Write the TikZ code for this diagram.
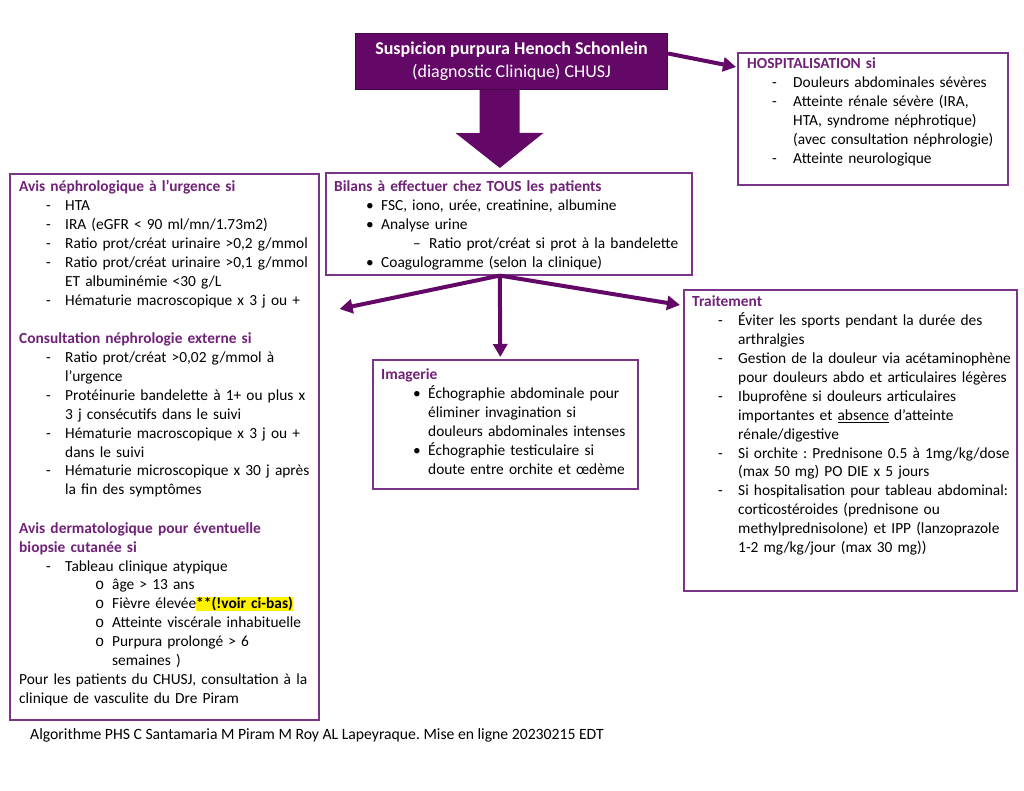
\documentclass[tikz,border=0pt]{standalone}
\usepackage{fontspec}
\setmainfont{Carlito}
\newfontfamily\markfont{Liberation Mono}
\usetikzlibrary{arrows.meta}
\frenchspacing

\definecolor{phsfill}{RGB}{100,8,104}
\definecolor{phsline}{RGB}{122,52,136}
\definecolor{phstitle}{RGB}{112,34,120}

% one list line: hanging indent, marker offset, marker
\newcommand{\entry}[3]{\par\hangindent=#1\hangafter=1\noindent\makebox[#1][l]{\hspace*{#2}#3}}
\newcommand{\boxtitle}[1]{\textcolor{phstitle}{\bfseries #1}}
\newcommand{\gap}{\par\vspace{19.5pt}}

\tikzset{
  infobox/.style={draw=phsline, line width=1.6pt, anchor=north west, inner sep=0pt},
  infotext/.style={anchor=north west, inner sep=0pt, text width=#1, align=left,
    font=\fontsize{15.4}{18.9}\selectfont},
  flow/.style={draw=phsfill, line width=4pt, -{Triangle[length=13pt,width=14pt]}},
  bigflow/.style={draw=phsfill, line width=40pt, -{Triangle[length=35pt,width=86pt]}},
}

\begin{document}
\begin{tikzpicture}[x=1pt,y=-1pt]
\fill[white] (0,0) rectangle (1024,791);
\useasboundingbox (0,0) rectangle (1024,791);

% top box
\node[fill=phsfill, draw=phsfill!70!black, line width=1pt, anchor=north west,
  minimum width=312pt, minimum height=56pt, text=white, align=center,
  font=\fontsize{18}{23}\selectfont] (suspicion) at (355,33)
  {\textbf{Suspicion purpura Henoch Schonlein}\\(diagnostic Clinique) CHUSJ};

% frames
\node[infobox, minimum width=270pt, minimum height=132pt] (hosp) at (737,52) {};
\node[infobox, minimum width=309pt, minimum height=546pt] (avis) at (9,173) {};
\node[infobox, minimum width=366pt, minimum height=102pt] (bilans) at (325,172) {};
\node[infobox, minimum width=265pt, minimum height=129pt] (imag) at (372,359) {};
\node[infobox, minimum width=333pt, minimum height=301pt] (treat) at (683,289) {};

% texts
\node[infotext=258pt] (hosptext) at ([shift={(10pt,-3.4pt)}]hosp.north west) {%
  \boxtitle{\strut HOSPITALISATION si}
  \entry{46pt}{25pt}{-}Douleurs abdominales sévères
  \entry{46pt}{25pt}{-}Atteinte rénale sévère (IRA,\newline HTA, syndrome néphrotique)\newline (avec consultation néphrologie)
  \entry{46pt}{25pt}{-}Atteinte neurologique\par};

\node[infotext=297pt] (avistext) at ([shift={(10pt,-5.4pt)}]avis.north west) {%
  \boxtitle{\strut Avis néphrologique à l’urgence si}
  \entry{46pt}{27pt}{-}HTA
  \entry{46pt}{27pt}{-}IRA (eGFR < 90 ml/mn/1.73m2)
  \entry{46pt}{27pt}{-}Ratio prot/créat urinaire >0,2 g/mmol
  \entry{46pt}{27pt}{-}Ratio prot/créat urinaire >0,1 g/mmol\newline ET albuminémie <30 g/L
  \entry{46pt}{27pt}{-}Hématurie macroscopique x 3 j ou +
  \gap
  \noindent\boxtitle{Consultation néphrologie externe si}
  \entry{46pt}{27pt}{-}Ratio prot/créat >0,02 g/mmol à\newline l’urgence
  \entry{46pt}{27pt}{-}Protéinurie bandelette à 1+ ou plus x\newline 3 j consécutifs dans le suivi
  \entry{46pt}{27pt}{-}Hématurie macroscopique x 3 j ou +\newline dans le suivi
  \entry{46pt}{27pt}{-}Hématurie microscopique x 30 j après\newline la fin des symptômes
  \gap
  \noindent\boxtitle{Avis dermatologique pour éventuelle\newline biopsie cutanée si}
  \entry{46pt}{27pt}{-}Tableau clinique atypique
  \entry{93pt}{76pt}{\markfont o}âge > 13 ans
  \entry{93pt}{76pt}{\markfont o}Fièvre élevée{\setlength{\fboxsep}{0pt}\colorbox{yellow}{\bfseries **(!voir ci-bas)}}
  \entry{93pt}{76pt}{\markfont o}Atteinte viscérale inhabituelle
  \entry{93pt}{76pt}{\markfont o}Purpura prolongé > 6\newline semaines )
  \par\noindent Pour les patients du CHUSJ, consultation à la\newline clinique de vasculite du Dre Piram\par};

\node[infotext=355pt] (bilanstext) at ([shift={(9pt,-6.4pt)}]bilans.north west) {%
  \boxtitle{\strut Bilans à effectuer chez TOUS les patients}
  \entry{47pt}{32pt}{•}FSC, iono, urée, creatinine, albumine
  \entry{47pt}{32pt}{•}Analyse urine
  \entry{95pt}{79pt}{–}Ratio prot/créat si prot à la bandelette
  \entry{47pt}{32pt}{•}Coagulogramme (selon la clinique)\par};

\node[infotext=255pt] (imagtext) at ([shift={(9pt,-7.4pt)}]imag.north west) {%
  \boxtitle{\strut Imagerie}
  \entry{47pt}{32pt}{•}Échographie abdominale pour\newline éliminer invagination si\newline douleurs abdominales intenses
  \entry{47pt}{32pt}{•}Échographie testiculaire si\newline doute entre orchite et œdème\par};

\node[infotext=322pt] (treattext) at ([shift={(9pt,-4.4pt)}]treat.north west) {%
  \boxtitle{\strut Traitement}
  \entry{46pt}{26pt}{-}Éviter les sports pendant la durée des\newline arthralgies
  \entry{46pt}{26pt}{-}Gestion de la douleur via acétaminophène\newline pour douleurs abdo et articulaires légères
  \entry{46pt}{26pt}{-}Ibuprofène si douleurs articulaires\newline importantes et \underline{absence} d’atteinte\newline rénale/digestive
  \entry{46pt}{26pt}{-}Si orchite : Prednisone 0.5 à 1mg/kg/dose\newline (max 50 mg) PO DIE x 5 jours
  \entry{46pt}{26pt}{-}Si hospitalisation pour tableau abdominal:\newline corticostéroides (prednisone ou\newline methylprednisolone) et IPP (lanzoprazole\newline 1-2 mg/kg/jour (max 30 mg))\par};

% footer
\node[anchor=west, inner sep=0pt, font=\fontsize{15.7}{18.9}\selectfont] (credit) at (30,735)
  {Algorithme PHS C Santamaria M Piram M Roy AL Lapeyraque. Mise en ligne 20230215 EDT};

% arrows
\coordinate (fork) at ([xshift=-9pt]bilans.south);
\draw[bigflow] ([xshift=-12pt]suspicion.south) -- ([yshift=4pt]fork |- bilans.north);
\draw[flow] ([yshift=8pt]suspicion.east) -- ([xshift=-1pt,yshift=-15pt]hosp.north west);
\draw[flow] (fork) -- ([xshift=20pt,yshift=-136pt]avis.north east);
\draw[flow] (fork) -- ([xshift=-5pt,yshift=2pt]imag.north);
\draw[flow] (fork) -- ([xshift=-3pt,yshift=-16pt]treat.north west);

\end{tikzpicture}
\end{document}
